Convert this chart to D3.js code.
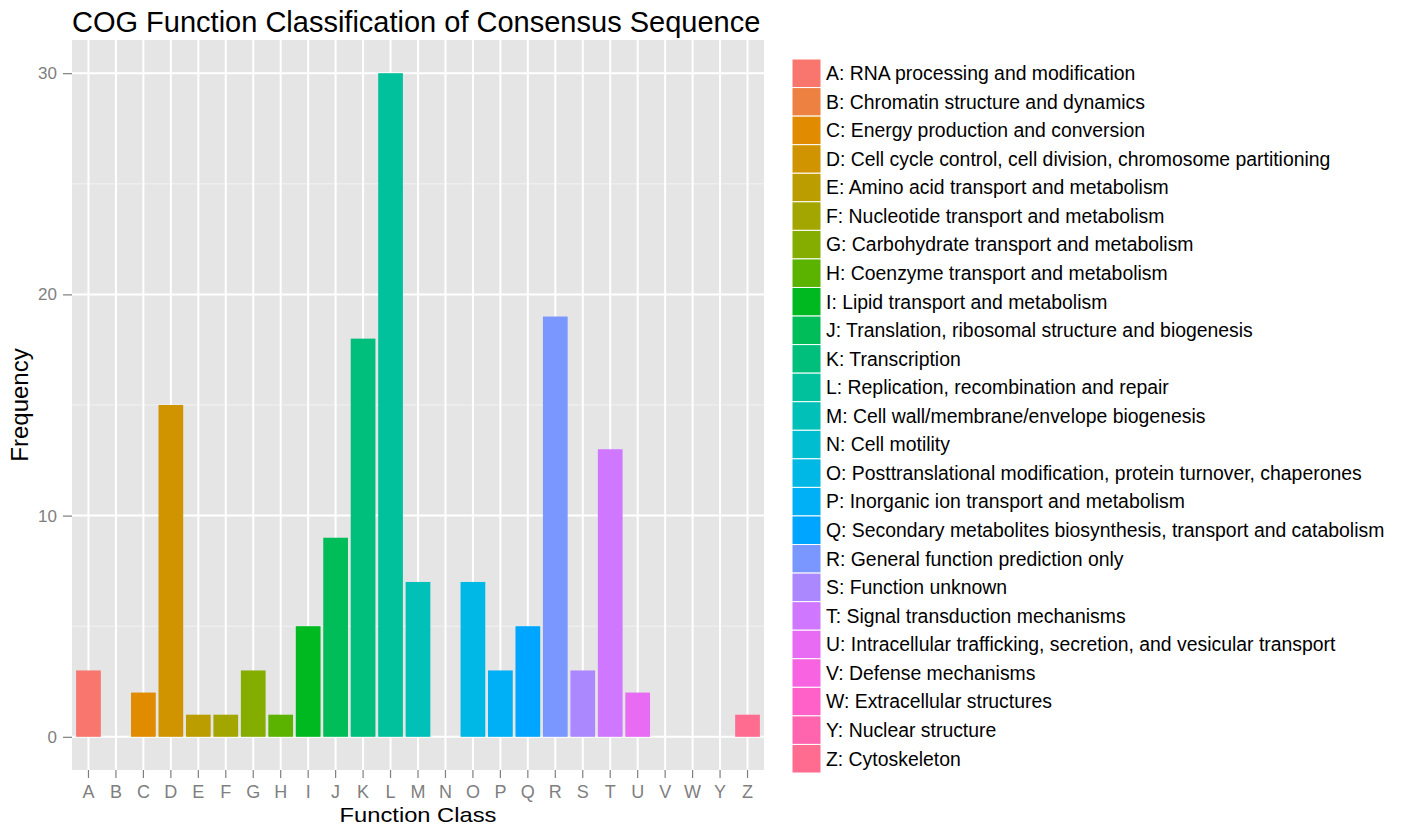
<!DOCTYPE html>
<html>
<head>
<meta charset="utf-8">
<script src="https://cdn.jsdelivr.net/npm/d3@7"></script>
<style>
  body { margin: 0; background: #fff; }
  svg text { font-family: "Liberation Sans", Arial, sans-serif; }
</style>
</head>
<body>
<div id="chart"></div>
<script>
// COG classes and counts
var classes = ["A","B","C","D","E","F","G","H","I","J","K","L","M","N","O","P","Q","R","S","T","U","V","W","Y","Z"]
var counts = [3,0,2,15,1,1,3,1,5,9,18,30,7,0,7,3,5,19,3,13,2,0,0,0,1]
var descriptions = [
  "RNA processing and modification",
  "Chromatin structure and dynamics",
  "Energy production and conversion",
  "Cell cycle control, cell division, chromosome partitioning",
  "Amino acid transport and metabolism",
  "Nucleotide transport and metabolism",
  "Carbohydrate transport and metabolism",
  "Coenzyme transport and metabolism",
  "Lipid transport and metabolism",
  "Translation, ribosomal structure and biogenesis",
  "Transcription",
  "Replication, recombination and repair",
  "Cell wall/membrane/envelope biogenesis",
  "Cell motility",
  "Posttranslational modification, protein turnover, chaperones",
  "Inorganic ion transport and metabolism",
  "Secondary metabolites biosynthesis, transport and catabolism",
  "General function prediction only",
  "Function unknown",
  "Signal transduction mechanisms",
  "Intracellular trafficking, secretion, and vesicular transport",
  "Defense mechanisms",
  "Extracellular structures",
  "Nuclear structure",
  "Cytoskeleton"
]
var yTicks = [0, 10, 20, 30]
var yMinor = [5, 15, 25]

// ggplot-ish hue palette (polar LUV, l=65, c=100)
function hclLuv(h, c, l) {
  var XN = 95.047, YN = 100, ZN = 108.883
  var hr = h * Math.PI / 180
  var U = c * Math.cos(hr), V = c * Math.sin(hr)
  var Y = YN * Math.pow((l + 16) / 116, 3)
  var t = XN + YN + ZN
  var x = XN / t, y = YN / t
  var un = 2 * x / (6 * y - x + 1.5)
  var vn = 4.5 * y / (6 * y - x + 1.5)
  var u = U / (13 * l) + un
  var v = V / (13 * l) + vn
  var X = 9.0 * Y * u / (4 * v)
  var Z = -X / 3 - 5 * Y + 3 * Y / v
  X /= 100; Y /= 100; Z /= 100
  var lin = [
     3.240479 * X - 1.537150 * Y - 0.498535 * Z,
    -0.969256 * X + 1.875992 * Y + 0.041556 * Z,
     0.055648 * X - 0.204043 * Y + 1.057311 * Z
  ]
  var rgb = lin.map(function(c) {
    var g = c > 0.00304 ? 1.055 * Math.pow(c, 1 / 2.4) - 0.055 : 12.92 * c
    return Math.round(255 * Math.max(0, Math.min(1, g)))
  })
  return d3.rgb(rgb[0], rgb[1], rgb[2]).formatHex()
}
var n = classes.length
var colors = classes.map(function(d, i) { return hclLuv(15 + 360 * i / n, 100, 65) })

var width = 1403, height = 826
var panel = {left: 72, right: 764, top: 40, bottom: 770}

var svg = d3.select("#chart").append("svg")
    .attr("width", width)
    .attr("height", height)

// ggplot discrete scale: 0.6 expansion each side, bars 0.9 wide
var x = d3.scaleBand()
    .domain(classes)
    .range([panel.left, panel.right])
    .paddingInner(0.1)
    .paddingOuter(0.15)

var y = d3.scaleLinear()
    .domain([-1.5, 31.5])
    .range([panel.bottom, panel.top])

svg.append("rect")
    .attr("x", panel.left)
    .attr("y", panel.top)
    .attr("width", panel.right - panel.left)
    .attr("height", panel.bottom - panel.top)
    .style("fill", "#e5e5e5")

// grid
svg.append("g").selectAll("line.minor")
    .data(yMinor).enter().append("line")
    .attr("x1", panel.left).attr("x2", panel.right)
    .attr("y1", function(d) { return y(d) }).attr("y2", function(d) { return y(d) })
    .style("stroke", "#f2f2f2").style("stroke-width", 1)

svg.append("g").selectAll("line.major")
    .data(yTicks).enter().append("line")
    .attr("x1", panel.left).attr("x2", panel.right)
    .attr("y1", function(d) { return y(d) }).attr("y2", function(d) { return y(d) })
    .style("stroke", "#fff").style("stroke-width", 2)

svg.append("g").selectAll("line.vx")
    .data(classes).enter().append("line")
    .attr("x1", function(d) { return x(d) + x.bandwidth() / 2 })
    .attr("x2", function(d) { return x(d) + x.bandwidth() / 2 })
    .attr("y1", panel.top).attr("y2", panel.bottom)
    .style("stroke", "#fff").style("stroke-width", 2)

// bars
svg.append("g").selectAll("rect")
    .data(classes).enter().append("rect")
    .attr("x", function(d) { return x(d) })
    .attr("width", x.bandwidth())
    .attr("y", function(d, i) { return y(counts[i]) })
    .attr("height", function(d, i) { return y(0) - y(counts[i]) })
    .style("fill", function(d, i) { return colors[i] })

// axes
var yAxis = svg.append("g")
    .attr("transform", "translate(" + panel.left + ",0)")
    .call(d3.axisLeft(y).tickValues(yTicks).tickSize(9).tickPadding(6))
yAxis.select(".domain").remove()
yAxis.selectAll("line").style("stroke", "#7f7f7f").style("stroke-width", 1.2)
yAxis.selectAll("text").style("fill", "#7f7f7f").style("font-size", "17px")

var xAxis = svg.append("g")
    .attr("transform", "translate(0," + panel.bottom + ")")
    .call(d3.axisBottom(x).tickSize(8).tickPadding(7))
xAxis.select(".domain").remove()
xAxis.selectAll("line").style("stroke", "#7f7f7f").style("stroke-width", 1.2)
xAxis.selectAll("text").style("fill", "#7f7f7f").style("font-size", "18px")

// labels
svg.append("text")
    .attr("x", panel.left)
    .attr("y", 32)
    .style("font-size", "29px")
    .text("COG Function Classification of Consensus Sequence")

svg.append("text")
    .attr("transform", "translate(" + ((panel.left + panel.right) / 2) + ",822) scale(1.13,1)")
    .attr("text-anchor", "middle")
    .style("font-size", "21px")
    .text("Function Class")

svg.append("text")
    .attr("transform", "translate(28," + ((panel.top + panel.bottom) / 2) + ") rotate(-90)")
    .attr("text-anchor", "middle")
    .style("font-size", "24px")
    .text("Frequency")

// legend
var keyH = 28.56
var legend = svg.append("g").attr("transform", "translate(792,59)")
var item = legend.selectAll("g")
    .data(classes).enter().append("g")
    .attr("transform", function(d, i) { return "translate(0," + (i * keyH) + ")" })
item.append("rect")
    .attr("width", 29).attr("height", keyH)
    .style("fill", function(d, i) { return colors[i] })
    .style("stroke", "#fff").style("stroke-width", 1)
item.append("text")
    .attr("x", 34)
    .attr("y", keyH / 2)
    .attr("dy", "0.35em")
    .style("font-size", "19.4px")
    .text(function(d, i) { return d + ": " + descriptions[i] })
</script>
</body>
</html>
